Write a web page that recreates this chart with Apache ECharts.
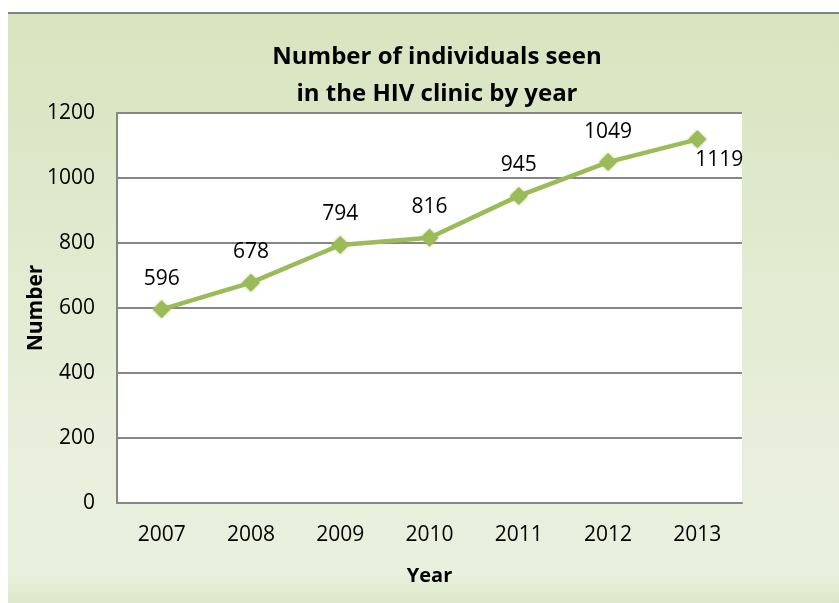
<!DOCTYPE html>
<html>
<head>
<meta charset="utf-8">
<script src="https://cdn.jsdelivr.net/npm/echarts@6/dist/echarts.min.js"></script>
<style>
  html, body { margin: 0; padding: 0; background: #ffffff; }
  #chart { width: 839px; height: 603px; }
</style>
</head>
<body>
<div id="chart"></div>
<script>
const years = ['2007', '2008', '2009', '2010', '2011', '2012', '2013'];
const counts = [596, 678, 794, 816, 945, 1049, 1119];
const yTicks = { min: 0, max: 1200, interval: 200 };
const titleText = 'Number of individuals seen\nin the HIV clinic by year';
const xName = 'Year';
const yName = 'Number';

const FONT = '"Open Sans", "Noto Sans", sans-serif';
const GREEN = '#9BBB59';

const chart = echarts.init(document.getElementById('chart'), null, { renderer: 'canvas' });

const seriesData = counts.map(function (v, i) {
  if (i === counts.length - 1) {
    return { value: v, label: { position: 'bottom', distance: 1, offset: [22, 0] } };
  }
  return v;
});

chart.setOption({
  backgroundColor: '#ffffff',
  animation: false,
  graphic: [
    {
      type: 'rect',
      z: -10,
      shape: { x: 8, y: 13, width: 831, height: 590 },
      style: {
        fill: new echarts.graphic.LinearGradient(0, 0, 0, 1, [
          { offset: 0, color: '#D8E4BF' },
          { offset: 0.7, color: '#E8EEDB' },
          { offset: 0.95, color: '#EAF0DE' },
          { offset: 1, color: '#DDE7C8' }
        ])
      }
    },
    {
      type: 'rect',
      z: -9,
      shape: { x: 8, y: 12, width: 831, height: 2 },
      style: { fill: '#808080' }
    }
  ],
  title: {
    text: titleText,
    left: 432,
    top: 34,
    textAlign: 'center',
    textStyle: {
      fontFamily: FONT,
      fontSize: 24,
      fontWeight: 'bold',
      color: '#000000',
      lineHeight: 37
    }
  },
  grid: {
    left: 117,
    top: 113,
    right: 97,
    bottom: 100,
    show: true,
    backgroundColor: '#ffffff',
    borderWidth: 0
  },
  xAxis: {
    type: 'category',
    data: years,
    boundaryGap: true,
    name: xName,
    nameLocation: 'middle',
    nameGap: 63,
    nameMoveOverlap: false,
    nameTextStyle: { fontFamily: FONT, fontSize: 20, fontWeight: 'bold', color: '#000' },
    axisLine: { show: true, lineStyle: { color: '#868686', width: 2 } },
    axisTick: { show: false },
    axisLabel: { fontFamily: FONT, fontSize: 21, color: '#000', margin: 22 }
  },
  yAxis: {
    type: 'value',
    min: yTicks.min,
    max: yTicks.max,
    interval: yTicks.interval,
    name: yName,
    nameLocation: 'middle',
    nameGap: 70,
    nameMoveOverlap: false,
    nameRotate: 90,
    nameTextStyle: { fontFamily: FONT, fontSize: 21, fontWeight: 'bold', color: '#000' },
    axisLine: { show: true, lineStyle: { color: '#868686', width: 2 } },
    axisTick: { show: false },
    axisLabel: {
      fontFamily: FONT, fontSize: 21, color: '#000', margin: 22,
      formatter: function (v) { return String(v); }
    },
    splitLine: { show: true, lineStyle: { color: '#868686', width: 2 } }
  },
  series: [
    {
      type: 'line',
      data: seriesData,
      symbol: 'diamond',
      symbolSize: 18,
      lineStyle: { color: GREEN, width: 4.5 },
      itemStyle: { color: GREEN, shadowBlur: 3, shadowColor: 'rgba(155,187,89,0.8)' },
      label: {
        show: true,
        position: 'top',
        distance: 11,
        fontFamily: FONT,
        fontSize: 21,
        color: '#000'
      }
    }
  ]
});
</script>
</body>
</html>
